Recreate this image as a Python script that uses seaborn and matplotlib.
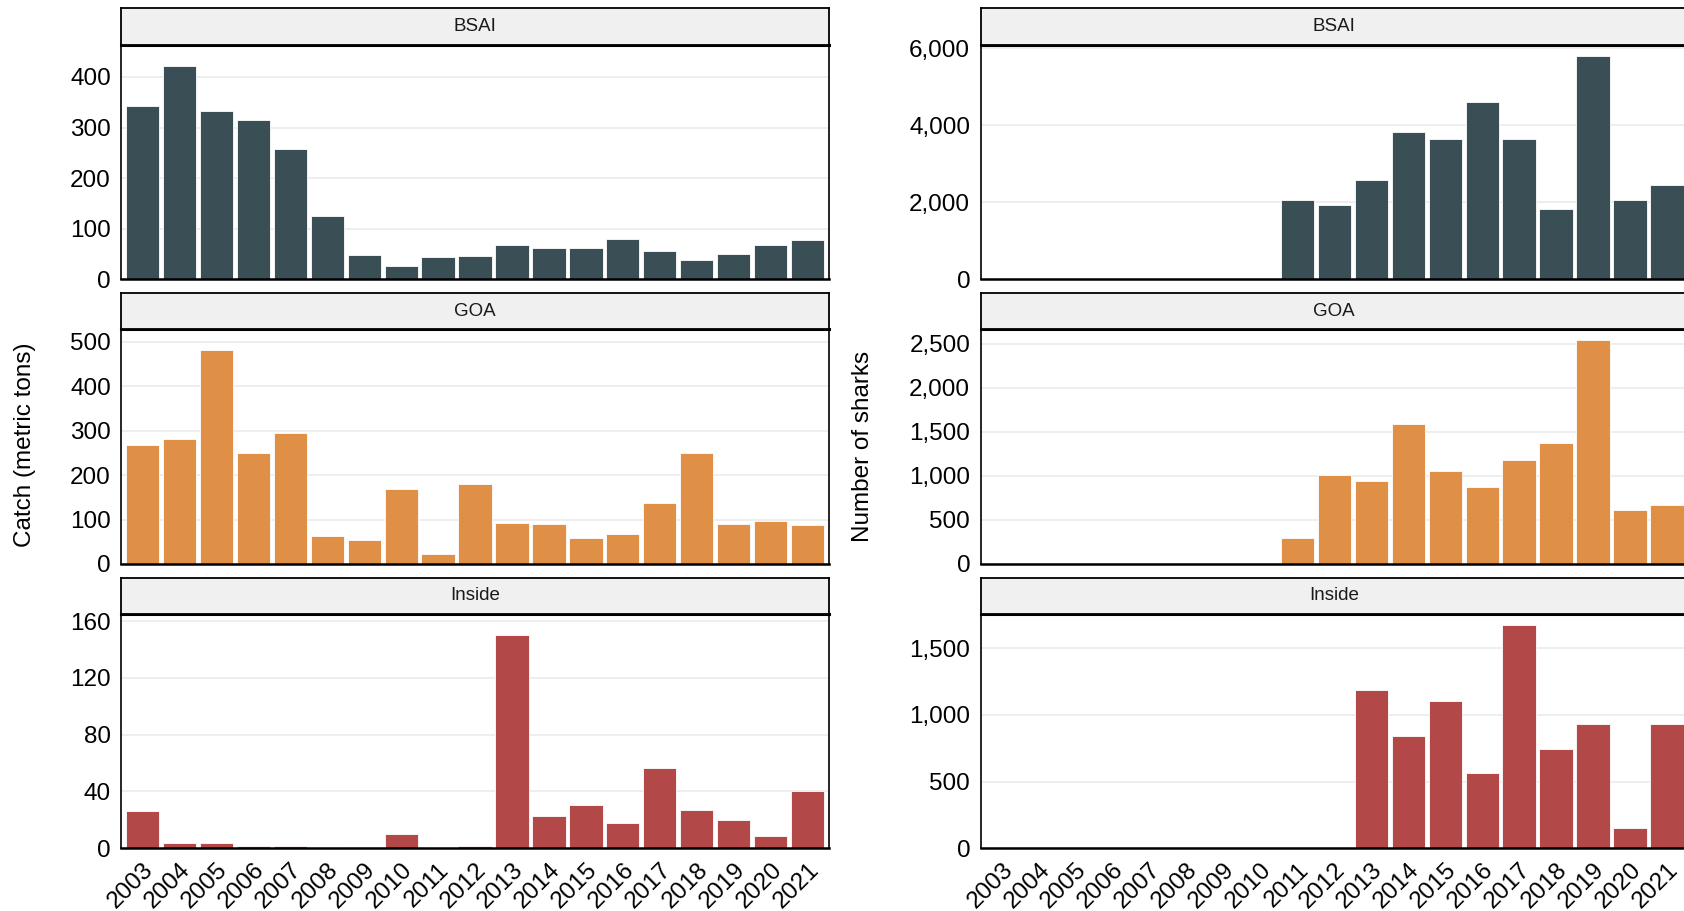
import numpy as np
import pandas as pd
import matplotlib
matplotlib.use("Agg")
import matplotlib.pyplot as plt
import seaborn as sns
from matplotlib.ticker import FuncFormatter, FixedLocator

# ---- data -------------------------------------------------------------
years = [str(y) for y in range(2003, 2022)]
regions = ["BSAI", "GOA", "Inside"]

# catch in metric tons, 2003-2021
catch_bsai = [343, 422, 333, 314, 257, 126, 49, 27, 45, 46,
              67, 61, 61, 79, 55, 39, 51, 67, 77]
catch_goa = [268, 281, 481, 251, 294, 63, 54, 169, 23, 179,
             93, 91, 58, 68, 138, 249, 90, 96, 88]
catch_inside = [26.5, 3.5, 3.5, 1.6, 1.6, 1.1, 0.0, 10.4, 1.1, 1.9,
                150.3, 22.7, 30.5, 18.0, 56.7, 26.9, 20.1, 9.0, 40.2]

# number of sharks, 2003-2021 (not estimated before 2011)
nan = np.nan
sharks_bsai = [nan, nan, nan, nan, nan, nan, nan, nan, 2050, 1928,
               2579, 3830, 3647, 4603, 3647, 1815, 5810, 2067, 2449]
sharks_goa = [nan, nan, nan, nan, nan, nan, nan, nan, 300, 1009,
              941, 1582, 1051, 869, 1176, 1370, 2538, 607, 668]
sharks_inside = [nan, nan, nan, nan, nan, nan, nan, nan, nan, nan,
                 1190, 843, 1107, 561, 1676, 747, 934, 153, 929]

catch_ticks = {"BSAI": [0, 100, 200, 300, 400],
               "GOA": [0, 100, 200, 300, 400, 500],
               "Inside": [0, 40, 80, 120, 160]}
sharks_ticks = {"BSAI": [0, 2000, 4000, 6000],
                "GOA": [0, 500, 1000, 1500, 2000, 2500],
                "Inside": [0, 500, 1000, 1500]}

region_colors = {"BSAI": "#394E55", "GOA": "#DF9046", "Inside": "#B34848"}

catch = {"BSAI": catch_bsai, "GOA": catch_goa, "Inside": catch_inside}
sharks = {"BSAI": sharks_bsai, "GOA": sharks_goa, "Inside": sharks_inside}

# ---- style ------------------------------------------------------------
sns.set_style("white")
plt.rcParams["font.family"] = ["Liberation Sans", "DejaVu Sans"]

W, H = 1684, 911
fig = plt.figure(figsize=(W / 100, H / 100), dpi=100)
fig.patch.set_facecolor("white")

# panel geometry in pixels
col_x = [(121.4, 828.7), (980.6, 1688.0)]
row_y = [(8.3, 44.5, 279.3), (293.3, 329.0, 564.0), (577.5, 613.5, 848.3)]

TICK_SIZE = 17.5


def fmt_comma(v, _):
    return f"{v:,.0f}"


def draw_panel(col, row, region, values, ticks, headroom):
    x0, x1 = col_x[col]
    ys, yt, yb = row_y[row]
    ax = fig.add_axes([x0 / W, 1 - yb / H, (x1 - x0) / W, (yb - yt) / H])
    df = pd.DataFrame({"year": years, "value": values})
    sns.barplot(data=df, x="year", y="value", order=years,
                color=region_colors[region], saturation=1, width=0.9,
                edgecolor="white", linewidth=0.6, errorbar=None, ax=ax)
    ax.set_xlim(-0.57, len(years) - 1 + 0.57)
    ax.set_ylim(0, np.nanmax(values) * headroom)
    ax.yaxis.set_major_locator(FixedLocator(ticks))
    if col == 1:
        ax.yaxis.set_major_formatter(FuncFormatter(fmt_comma))
    ax.set_axisbelow(True)
    ax.yaxis.grid(True, color="#EBEBEB", linewidth=1.2)
    ax.xaxis.grid(False)
    ax.set_xlabel("")
    ax.set_ylabel("")
    for side, lw in (("top", 2.2), ("left", 1.2), ("right", 1.2), ("bottom", 1.8)):
        ax.spines[side].set_visible(True)
        ax.spines[side].set_color("black")
        ax.spines[side].set_linewidth(lw)
    ax.tick_params(axis="y", direction="out", length=5, width=1.1,
                   color="#333333", labelsize=TICK_SIZE, pad=2.5,
                   labelcolor="black")
    if row == 2:
        ax.tick_params(axis="x", direction="out", length=5, width=1.1,
                       color="#333333", labelsize=TICK_SIZE, pad=2.5,
                       labelcolor="black")
        for lab in ax.get_xticklabels():
            lab.set_rotation(45)
            lab.set_ha("right")
            lab.set_va("top")
            lab.set_rotation_mode("anchor")
    else:
        ax.tick_params(axis="x", length=0, labelbottom=False)

    # facet strip
    sax = fig.add_axes([x0 / W, 1 - yt / H, (x1 - x0) / W, (yt - ys) / H])
    sax.set_facecolor("#F0F0F0")
    sax.set_xticks([])
    sax.set_yticks([])
    for sp in sax.spines.values():
        sp.set_visible(True)
        sp.set_color("black")
        sp.set_linewidth(1.3)
    sax.text(0.5, 0.5, region, transform=sax.transAxes, ha="center",
             va="center", fontsize=13.5, color="#1A1A1A")
    return ax


for r, reg in enumerate(regions):
    draw_panel(0, r, reg, catch[reg], catch_ticks[reg], 1.10)
    draw_panel(1, r, reg, sharks[reg], sharks_ticks[reg], 1.05)

fig.text(25 / W, 1 - 445 / H, "Catch (metric tons)", rotation=90,
         ha="center", va="center", fontsize=17.5, color="black")
fig.text(863 / W, 1 - 446 / H, "Number of sharks", rotation=90,
         ha="center", va="center", fontsize=17.5, color="black")

fig.savefig("out.png", dpi=100, facecolor="white")
